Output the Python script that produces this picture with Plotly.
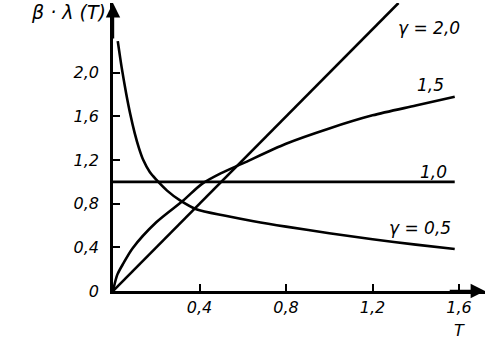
import plotly.graph_objects as go

# Data
T_g05 = [0.022, 0.04, 0.06, 0.08, 0.10, 0.12, 0.14, 0.17, 0.2, 0.25, 0.31, 0.385, 0.52, 0.65, 0.8, 1.0, 1.2, 1.4, 1.58]
L_g05 = [2.29, 2.05, 1.82, 1.62, 1.45, 1.31, 1.2, 1.09, 1.02, 0.92, 0.83, 0.75, 0.69, 0.64, 0.59, 0.53, 0.475, 0.425, 0.385]

T_g10 = [0.0, 1.58]
L_g10 = [1.0, 1.0]

T_g15 = [0.0, 0.02, 0.05, 0.09, 0.2, 0.325, 0.41, 0.5, 0.6, 0.8, 1.0, 1.2, 1.4, 1.58]
L_g15 = [0.0, 0.15, 0.26, 0.39, 0.63, 0.83, 0.98, 1.08, 1.17, 1.35, 1.49, 1.61, 1.70, 1.78]

T_g20 = [0.0, 1.32]
L_g20 = [0.0, 2.64]

x_tickvals = [0.4, 0.8, 1.2, 1.6]
x_ticktext = ["0,4", "0,8", "1,2", "1,6"]
y_tickvals = [0.0, 0.4, 0.8, 1.2, 1.6, 2.0]
y_ticktext = ["0", "0,4", "0,8", "1,2", "1,6", "2,0"]

labels = [
    ("γ = 2,0", 1.46, 2.41),
    ("1,5", 1.47, 1.89),
    ("1,0", 1.48, 1.09),
    ("γ = 0,5", 1.42, 0.58),
]

FONT = "DejaVu Sans"
fig = go.Figure()
line = dict(color="black", width=2.6, shape="spline", smoothing=0.8)
for xs, ys in [(T_g05, L_g05), (T_g10, L_g10), (T_g15, L_g15), (T_g20, L_g20)]:
    fig.add_trace(go.Scatter(x=xs, y=ys, mode="lines", line=line, showlegend=False,
                             hoverinfo="skip", cliponaxis=False))

for text, x, y in labels:
    fig.add_annotation(x=x, y=y, text=text, showarrow=False,
                       font=dict(family=FONT, size=17, color="black", style="italic"))

# axis titles
fig.add_annotation(x=0, y=1.0, xref="paper", yref="paper", xanchor="right", yanchor="middle",
                   xshift=-5, yshift=-9, text="β · λ (T)", showarrow=False,
                   font=dict(family=FONT, size=19, color="black", style="italic"))
fig.add_annotation(x=1.6, y=0, yref="y", text="T", showarrow=False, yshift=-39,
                   font=dict(family=FONT, size=16, color="black", style="italic"))

# axis arrows
fig.add_annotation(x=0, y=2.64, ax=0, ay=2.3, xref="x", yref="y", axref="x", ayref="y",
                   showarrow=True, arrowhead=2, arrowsize=1.2, arrowwidth=2.4, arrowcolor="black",
                   text="")
fig.add_annotation(x=1.72, y=0, ax=1.55, ay=0, xref="x", yref="y", axref="x", ayref="y",
                   showarrow=True, arrowhead=2, arrowsize=1.2, arrowwidth=2.4, arrowcolor="black",
                   text="")

fig.update_layout(
    width=488, height=339,
    margin=dict(l=113, r=3, t=3, b=48),
    paper_bgcolor="white", plot_bgcolor="white",
    xaxis=dict(range=[0, 1.72], showgrid=False, zeroline=False, showline=True, automargin=False,
               linecolor="black", linewidth=2.5, ticks="inside", ticklen=7, tickwidth=2,
               tickcolor="black", tickvals=x_tickvals, ticktext=x_ticktext,
               tickfont=dict(family=FONT, size=16, color="black", style="italic"),
               ticklabelstandoff=0),
    yaxis=dict(range=[0, 2.64], showgrid=False, zeroline=False, showline=True, automargin=False,
               linecolor="black", linewidth=2.5, ticks="inside", ticklen=7, tickwidth=2,
               tickcolor="black", tickvals=y_tickvals, ticktext=y_ticktext,
               tickfont=dict(family=FONT, size=16, color="black", style="italic"),
               ticklabelstandoff=8),
)

fig.write_html("out.html", config={"displayModeBar": False},
               post_script="document.body.style.margin='0';")
